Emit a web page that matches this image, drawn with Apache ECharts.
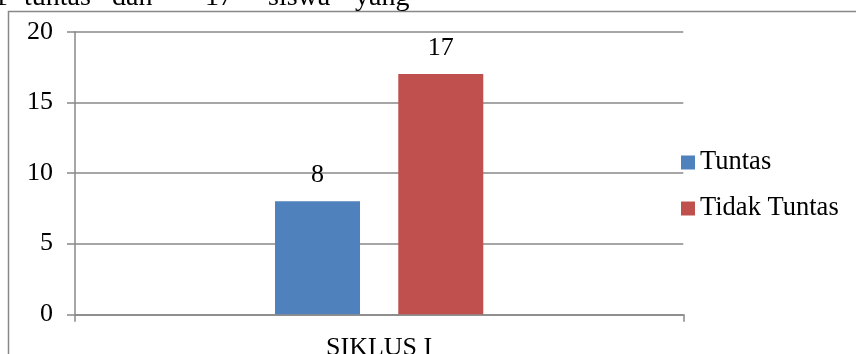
<!DOCTYPE html>
<html>
<head>
<meta charset="utf-8">
<script src="https://cdn.jsdelivr.net/npm/echarts@6/dist/echarts.min.js"></script>
<style>html,body{margin:0;padding:0;background:#fff}#c{width:856px;height:354px}</style>
</head>
<body>
<div id="c"></div>
<script>
var categories = ['SIKLUS I'];
var tuntas = [8];
var tidakTuntas = [17];
var seriesNames = ['Tuntas', 'Tidak Tuntas'];
var topWords = ['1', 'tuntas', 'dan', '17', 'siswa', 'yang'];

var FONT = '"Liberation Serif", "Times New Roman", serif';
var GRAY = '#888888';
var wordX = [-6, 24, 112, 205, 268, 355];

var graphics = [{
  type: 'rect',
  shape: { x: 8.5, y: 11.5, width: 900, height: 400 },
  style: { fill: 'none', stroke: GRAY, lineWidth: 1.5 },
  silent: true
}];
topWords.forEach(function (w, i) {
  graphics.push({
    type: 'text', x: wordX[i], y: -2.5,
    style: { text: w, font: '28px ' + FONT, fill: '#000', verticalAlign: 'middle', align: 'left' },
    silent: true
  });
});

var chart = echarts.init(document.getElementById('c'));
chart.setOption({
  animation: false,
  backgroundColor: '#fff',
  textStyle: { fontFamily: FONT },
  grid: { left: 75, right: 172.7, top: 31.7, bottom: 39.7, outerBoundsMode: 'none', containLabel: false },
  legend: {
    orient: 'vertical',
    left: 681, top: 149,
    padding: 0,
    itemWidth: 14, itemHeight: 14, itemGap: 19,
    icon: 'rect',
    data: seriesNames,
    textStyle: { fontFamily: FONT, fontSize: 26.5, color: '#000', lineHeight: 26 }
  },
  xAxis: {
    type: 'category',
    data: categories,
    axisLine: { lineStyle: { color: GRAY, width: 1.5 } },
    axisTick: { show: true, length: 7.5, lineStyle: { color: GRAY, width: 1.5 } },
    axisLabel: { fontFamily: FONT, fontSize: 26, color: '#000', margin: 21 }
  },
  yAxis: {
    type: 'value',
    min: 0, max: 20, interval: 5,
    axisLine: { show: true, lineStyle: { color: GRAY, width: 1.5 } },
    axisTick: { show: true, length: 8, lineStyle: { color: GRAY, width: 1.5 } },
    splitLine: { lineStyle: { color: GRAY, width: 1.5 } },
    axisLabel: { fontFamily: FONT, fontSize: 26, color: '#000', margin: 22 }
  },
  series: [{
    name: seriesNames[0], type: 'bar', data: tuntas,
    barWidth: 85, barGap: '45%',
    itemStyle: { color: '#4F81BD' },
    label: { show: true, position: 'top', distance: 13, fontFamily: FONT, fontSize: 26, color: '#000' }
  }, {
    name: seriesNames[1], type: 'bar', data: tidakTuntas,
    barWidth: 85, barGap: '45%',
    itemStyle: { color: '#C0504D' },
    label: { show: true, position: 'top', distance: 13, fontFamily: FONT, fontSize: 26, color: '#000' }
  }],
  graphic: graphics
});
</script>
</body>
</html>
